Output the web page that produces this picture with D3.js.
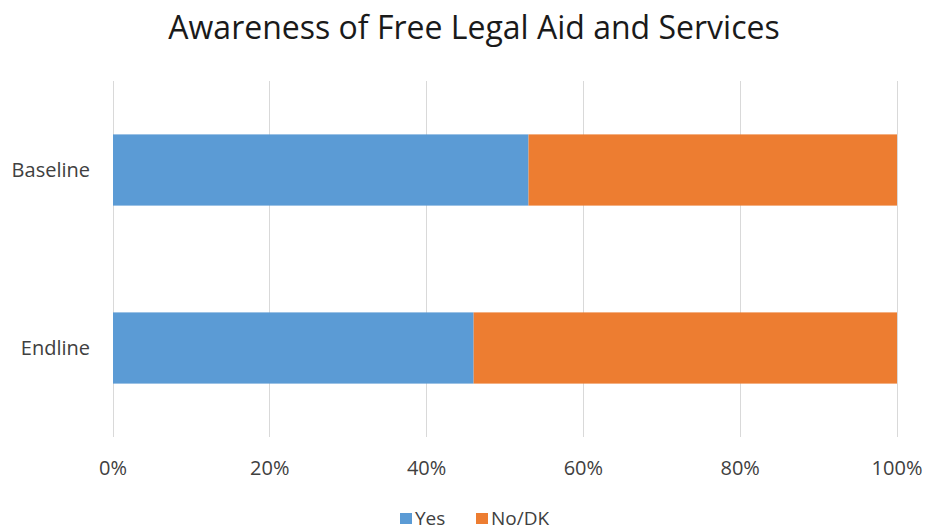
<!DOCTYPE html>
<html><head><meta charset="utf-8">
<script src="https://cdn.jsdelivr.net/npm/d3@7"></script>
<style>body{margin:0;background:#fff;}svg{display:block;font-family:"Open Sans","Liberation Sans",sans-serif;}</style>
</head><body>
<svg id="c" width="925" height="532"></svg>
<script>
const categories = ["Baseline", "Endline"];
const seriesNames = ["Yes", "No/DK"];
const yesValues = [0.53, 0.46];
const noValues = [0.47, 0.54];
const tickValues = [0, 0.2, 0.4, 0.6, 0.8, 1.0];
const colors = ["#5B9BD5", "#ED7D31"];

const svg = d3.select("#c");
const m = {l:113, r:925-897, t:81, b:532-437};
const W = 925, H = 532;
const x = d3.scaleLinear().domain([0,1]).range([m.l, W-m.r]);
const y = d3.scaleBand().domain(categories).range([m.t, H-m.b]).paddingInner(0.6).paddingOuter(0.3);

// gridlines
svg.append("g").selectAll("line").data(tickValues).join("line")
  .attr("x1", d=>x(d)).attr("x2", d=>x(d)).attr("y1", m.t).attr("y2", H-m.b)
  .attr("stroke", "#D9D9D9").attr("stroke-width", 1).attr("shape-rendering","crispEdges");

const stacked = categories.map((c,i)=>({cat:c, parts:[[0,yesValues[i]],[yesValues[i], yesValues[i]+noValues[i]]]}));
stacked.forEach(s=>{
  s.parts.forEach((p,j)=>{
    svg.append("rect").attr("x", x(p[0])).attr("width", x(Math.min(p[1],1))-x(p[0]))
      .attr("y", y(s.cat)).attr("height", y.bandwidth()).attr("fill", colors[j]);
  });
});

// x axis labels
svg.append("g").selectAll("text").data(tickValues).join("text")
  .attr("x", d=>x(d)).attr("y", 475).attr("text-anchor","middle")
  .attr("font-size", 20).attr("fill","#404040").text(d=>d3.format(".0%")(d));

// category labels
svg.append("g").selectAll("text").data(categories).join("text")
  .attr("x", 90).attr("y", d=>y(d)+y.bandwidth()/2).attr("dy","0.36em").attr("text-anchor","end")
  .attr("font-size", 20).attr("fill","#404040").text(d=>d);

// title
svg.append("text").attr("x", 474).attr("y", 39).attr("text-anchor","middle")
  .attr("font-size", 32).attr("fill","#1a1a1a").text("Awareness of Free Legal Aid and Services");

// legend
const lg = svg.append("g");
const legX = [400, 476];
seriesNames.forEach((n,i)=>{
  lg.append("rect").attr("x", legX[i]).attr("y", 513).attr("width", 12).attr("height", 11).attr("fill", colors[i]);
  lg.append("text").attr("x", legX[i]+15).attr("y", 525).attr("font-size", 19).attr("fill","#404040").text(n);
});
</script>
</body></html>
